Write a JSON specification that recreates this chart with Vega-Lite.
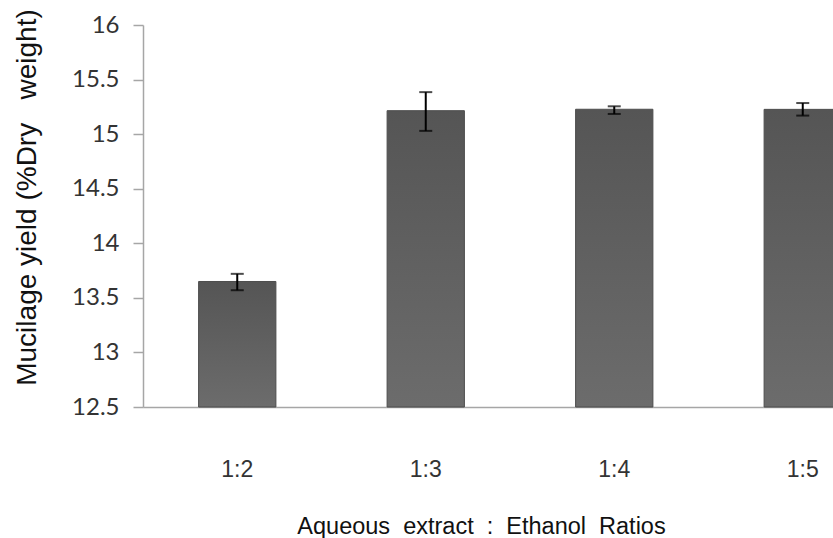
{
  "$schema": "https://vega.github.io/schema/vega-lite/v6.json",
  "width": 690,
  "height": 382,
  "autosize": {"type": "none"},
  "padding": {"left": 143, "top": 25, "right": 0, "bottom": 131},
  "background": "white",
  "config": {"view": {"stroke": null}},
  "data": {"values": [
    {"ratio": "1:2", "yield": 13.65, "lo": 13.57, "hi": 13.72},
    {"ratio": "1:3", "yield": 15.215, "lo": 15.03, "hi": 15.385},
    {"ratio": "1:4", "yield": 15.228, "lo": 15.185, "hi": 15.255},
    {"ratio": "1:5", "yield": 15.227, "lo": 15.17, "hi": 15.285}
  ]},
  "encoding": {
    "x": {
      "field": "ratio", "type": "nominal", "sort": null,
      "scale": {"range": [0, 754], "paddingInner": 0.59, "paddingOuter": 0.295},
      "axis": {
        "title": "Aqueous\u00a0 extract\u00a0 :\u00a0 Ethanol\u00a0 Ratios",
        "labelAngle": 0,
        "labelFont": "Liberation Sans", "labelFontSize": 23, "labelColor": "#333333",
        "labelPadding": 51, "ticks": false, "tickSize": 0,
        "domainColor": "#a6a6a6", "domainWidth": 1.5,
        "titleFont": "Liberation Sans", "titleFontSize": 23.5, "titleFontWeight": "normal", "titleColor": "#111111",
        "titleX": 338, "titleY": 126, "titleAnchor": null, "titleAlign": "center", "titleBaseline": "alphabetic"
      }
    }
  },
  "layer": [
    {
      "mark": {
        "type": "bar",
        "stroke": "#4d4d4d", "strokeWidth": 1,
        "color": {"gradient": "linear", "x1": 0, "y1": 0, "x2": 0, "y2": 1,
          "stops": [{"offset": 0, "color": "#555555"}, {"offset": 1, "color": "#6c6c6c"}]}
      },
      "encoding": {
        "y": {
          "field": "yield", "type": "quantitative",
          "scale": {"domain": [12.5, 16], "zero": false, "nice": false},
          "axis": {
            "title": "Mucilage yield (%Dry\u00a0 \u00a0weight)",
            "values": [12.5, 13, 13.5, 14, 14.5, 15, 15.5, 16],
            "format": "~g",
            "grid": false,
            "labelFont": "Lato", "labelFontSize": 24, "labelColor": "#333333", "labelPadding": 14,
            "tickSize": 10, "tickColor": "#a6a6a6", "tickWidth": 1.5,
            "domainColor": "#a6a6a6", "domainWidth": 1.5,
            "titleFont": "Liberation Sans", "titleFontSize": 28, "titleFontWeight": "normal", "titleColor": "#111111",
            "titleX": -116, "titleY": 172, "titleAngle": -90, "titleAlign": "center", "titleBaseline": "middle", "titleAnchor": null
          }
        },
        "y2": {"datum": 12.5}
      }
    },
    {
      "mark": {"type": "rule", "color": "#000000", "strokeWidth": 2},
      "encoding": {
        "y": {"field": "lo", "type": "quantitative"},
        "y2": {"field": "hi"}
      }
    },
    {
      "mark": {"type": "tick", "color": "#000000", "thickness": 2, "size": 13, "orient": "horizontal"},
      "encoding": {"y": {"field": "lo", "type": "quantitative"}}
    },
    {
      "mark": {"type": "tick", "color": "#000000", "thickness": 2, "size": 13, "orient": "horizontal"},
      "encoding": {"y": {"field": "hi", "type": "quantitative"}}
    }
  ]
}
